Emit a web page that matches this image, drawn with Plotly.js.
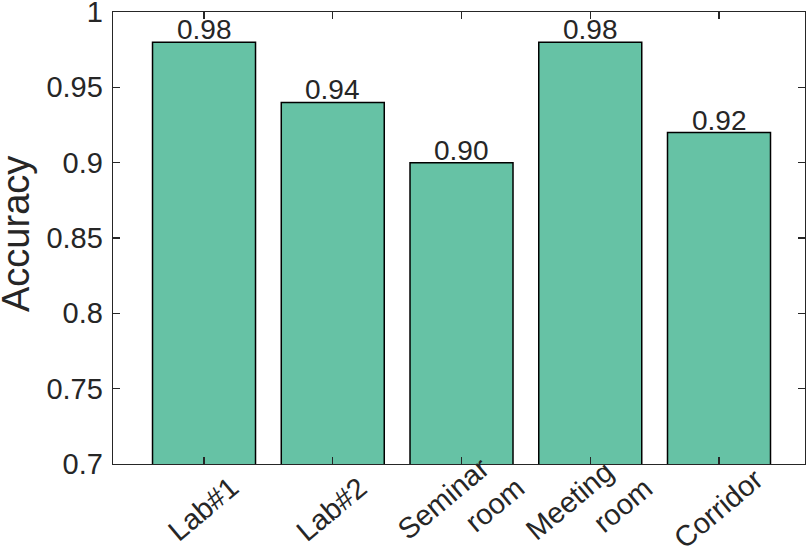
<!DOCTYPE html>
<html>
<head>
<meta charset="utf-8">
<script src="https://cdn.plot.ly/plotly-3.0.1.min.js"></script>
<style>
  html, body { margin: 0; padding: 0; background: #fff; }
  #chart { width: 810px; height: 556px; }
</style>
</head>
<body>
<div id="chart"></div>
<script>
var locations = ['Lab#1', 'Lab#2', 'Seminar room', 'Meeting room', 'Corridor'];
// MATLAB-style wrapped labels (second line starts offset, like the original)
var locationLabels = ['Lab#1', 'Lab#2',
  'Seminar<br>&nbsp;&nbsp;&nbsp;&nbsp;&nbsp;&nbsp;&nbsp;room',
  'Meeting<br>&nbsp;&nbsp;&nbsp;&nbsp;&nbsp;&nbsp;&nbsp;room',
  'Corridor'];
var accuracy = [0.98, 0.94, 0.90, 0.98, 0.92];
var yTicks = [0.7, 0.75, 0.8, 0.85, 0.9, 0.95, 1];
var yTickText = ['0.7', '0.75', '0.8', '0.85', '0.9', '0.95', '1'];

var ink = '#262626';
var font = 'Liberation Sans, Arial, Helvetica, sans-serif';

var trace = {
  x: locations,
  y: accuracy,
  type: 'bar',
  width: 0.8,
  marker: {
    color: '#66C2A5',
    line: { color: '#000000', width: 1.5 }
  },
  hoverinfo: 'none'
};

var annotations = [];
// value labels on top of bars
locations.forEach(function (loc, i) {
  annotations.push({
    x: loc, y: accuracy[i], xref: 'x', yref: 'y',
    text: accuracy[i].toFixed(2),
    showarrow: false, xanchor: 'center', yanchor: 'bottom', yshift: -5,
    font: { family: font, size: 28, color: ink }
  });
});
// rotated category labels under the axis
locations.forEach(function (loc, i) {
  annotations.push({
    x: loc, y: 0, xref: 'x', yref: 'paper',
    text: locationLabels[i],
    showarrow: false, textangle: -40, align: 'left',
    xanchor: 'center', yanchor: 'middle', xshift: -1, yshift: -45,
    font: { family: font, size: 29, color: ink }
  });
});
// y axis title, placed like the MATLAB one (close to the left edge)
annotations.push({
  x: 0, y: 0.5, xref: 'paper', yref: 'paper',
  text: 'Accuracy', textangle: -90, showarrow: false,
  xanchor: 'center', yanchor: 'middle', xshift: -97, yshift: 4,
  font: { family: font, size: 38, color: ink }
});

var layout = {
  width: 810,
  height: 556,
  margin: { l: 113, r: 5, t: 12, b: 92 },
  paper_bgcolor: '#ffffff',
  plot_bgcolor: '#ffffff',
  showlegend: false,
  bargap: 0.2,
  font: { family: font, color: ink },
  annotations: annotations,
  xaxis: {
    range: [-0.707, 4.668],
    ticks: 'inside',
    ticklen: 7,
    tickcolor: ink,
    tickwidth: 1.3,
    showticklabels: false,
    showline: true,
    linecolor: ink,
    linewidth: 1.3,
    mirror: 'ticks',
    showgrid: false,
    zeroline: false
  },
  yaxis: {
    range: [0.7, 1],
    tickvals: yTicks,
    ticktext: yTickText,
    ticks: 'inside',
    ticklen: 7,
    tickcolor: ink,
    tickwidth: 1.3,
    ticklabeloverflow: 'allow',
    ticklabelstandoff: 3,
    showline: true,
    linecolor: ink,
    linewidth: 1.3,
    mirror: 'ticks',
    showgrid: false,
    zeroline: false,
    tickfont: { family: font, size: 29, color: ink }
  }
};

Plotly.newPlot('chart', [trace], layout, { staticPlot: true });
</script>
</body>
</html>
